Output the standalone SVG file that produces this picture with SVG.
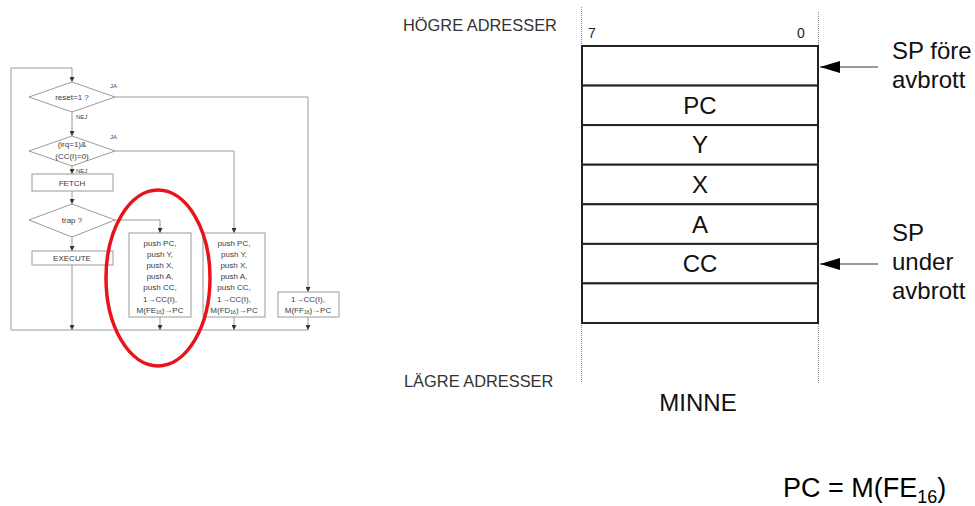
<svg xmlns="http://www.w3.org/2000/svg" width="975" height="506" viewBox="0 0 975 506">
<defs>
<marker id="ah" viewBox="0 0 6 6" refX="6" refY="3" markerWidth="5" markerHeight="5" orient="auto" markerUnits="userSpaceOnUse">
<path d="M0,0 L6,3 L0,6 z" fill="#333"/>
</marker>
<marker id="big" viewBox="0 0 20 12" refX="20" refY="6" markerWidth="20" markerHeight="13" orient="auto" markerUnits="userSpaceOnUse">
<path d="M0,0 L20,6 L0,12 z" fill="#000"/>
</marker>
</defs>
<style>
.fl{fill:#fff;stroke:#9a9a9a;stroke-width:1}
.cn{fill:none;stroke:#9a9a9a;stroke-width:1}
.ft{font-family:"Liberation Sans",Arial,sans-serif;font-size:8px;fill:#3a3a3a;text-anchor:middle}
.sm{font-family:"Liberation Sans",Arial,sans-serif;font-size:6px;fill:#444}
.mem{fill:#fff;stroke:#222;stroke-width:2}
.mt{font-family:"Liberation Sans",Arial,sans-serif;font-size:24px;fill:#111;text-anchor:middle}
.lb{font-family:"Liberation Sans",Arial,sans-serif;font-size:24px;fill:#111}
.ad{font-family:"Liberation Sans",Arial,sans-serif;font-size:16.4px;fill:#333}
.dot{stroke:#888;stroke-width:1;stroke-dasharray:1 1}
.sp{stroke:#777;stroke-width:1.5;fill:none}
</style>
<rect width="975" height="506" fill="#fff"/>

<g id="connectors">
<path class="cn" d="M11,330 V68 H72 V82" marker-end="url(#ah)"/>
<path class="cn" d="M72,112 V136" marker-end="url(#ah)"/>
<path class="cn" d="M72,166 V174" marker-end="url(#ah)"/>
<path class="cn" d="M72,191 V204" marker-end="url(#ah)"/>
<path class="cn" d="M72,237 V251" marker-end="url(#ah)"/>
<path class="cn" d="M72,265 V330" marker-end="url(#ah)"/>
<path class="cn" d="M115,220 H160 V233" marker-end="url(#ah)"/>
<path class="cn" d="M115,97 H308 V292" marker-end="url(#ah)"/>
<path class="cn" d="M115,151 H234 V233" marker-end="url(#ah)"/>
<path class="cn" d="M160,317 V330" marker-end="url(#ah)"/>
<path class="cn" d="M234,317 V330" marker-end="url(#ah)"/>
<path class="cn" d="M308,317 V330" marker-end="url(#ah)"/>
<path class="cn" d="M11,330 H308"/>
<text class="sm" x="110" y="88">JA</text>
<text class="sm" x="110" y="139">JA</text>
<text class="sm" x="76" y="119">NEJ</text>
<text class="sm" x="76" y="173">NEJ</text>
<path class="sp" d="M878,67 H820" marker-end="url(#big)"/>
<path class="sp" d="M878,264 H820" marker-end="url(#big)"/>
</g>

<g id="reset">
<polygon class="fl" points="72,82 115,97 72,112 29,97"/>
<text class="ft" x="72" y="100">reset=1 ?</text>
</g>
<g id="irq">
<polygon class="fl" points="72,136 115,151 72,166 29,151"/>
<text class="ft" x="72" y="147">(irq=1)&amp;</text>
<text class="ft" x="72" y="159">(CC(I)=0)</text>
</g>
<g id="fetch">
<rect class="fl" x="32" y="174" width="81" height="17"/>
<text class="ft" x="72" y="185.5">FETCH</text>
</g>
<g id="trap">
<polygon class="fl" points="72,204 115,220 72,237 29,220"/>
<text class="ft" x="72" y="223">trap ?</text>
</g>
<g id="execute">
<rect class="fl" x="32" y="251" width="81" height="14"/>
<text class="ft" x="72" y="261">EXECUTE</text>
</g>
<g id="trapbox">
<rect class="fl" x="129" y="233" width="62" height="84"/>
<text class="ft" x="160" y="245.5">push PC,</text>
<text class="ft" x="160" y="256.7">push Y,</text>
<text class="ft" x="160" y="267.9">push X,</text>
<text class="ft" x="160" y="279.1">push A,</text>
<text class="ft" x="160" y="290.3">push CC,</text>
<text class="ft" x="160" y="301.5">1→CC(I),</text>
<text class="ft" x="160" y="312.7">M(FE<tspan font-size="5" dy="1.5">16</tspan><tspan dy="-1.5">)→PC</tspan></text>
</g>
<g id="irqbox">
<rect class="fl" x="203" y="233" width="62" height="84"/>
<text class="ft" x="234" y="245.5">push PC,</text>
<text class="ft" x="234" y="256.7">push Y,</text>
<text class="ft" x="234" y="267.9">push X,</text>
<text class="ft" x="234" y="279.1">push A,</text>
<text class="ft" x="234" y="290.3">push CC,</text>
<text class="ft" x="234" y="301.5">1→CC(I),</text>
<text class="ft" x="234" y="312.7">M(FD<tspan font-size="5" dy="1.5">16</tspan><tspan dy="-1.5">)→PC</tspan></text>
</g>
<g id="resetbox">
<rect class="fl" x="278" y="292" width="61" height="25"/>
<text class="ft" x="308" y="301.5">1→CC(I),</text>
<text class="ft" x="308" y="312.7">M(FF<tspan font-size="5" dy="1.5">16</tspan><tspan dy="-1.5">)→PC</tspan></text>
</g>
<g id="highlight">
<ellipse cx="158" cy="278" rx="52" ry="88" fill="none" stroke="#e8141c" stroke-width="3.5"/>
</g>

<g id="memory">
<line class="dot" x1="581.5" y1="7" x2="581.5" y2="383"/>
<line class="dot" x1="818.5" y1="12" x2="818.5" y2="383"/>
<text class="ad" x="403" y="31">HÖGRE ADRESSER</text>
<text class="ad" x="404" y="387">LÄGRE ADRESSER</text>
<text x="588" y="38" font-family="Liberation Sans, Arial, sans-serif" font-size="14" fill="#222">7</text>
<text x="797" y="38" font-family="Liberation Sans, Arial, sans-serif" font-size="14" fill="#222">0</text>
<rect class="mem" x="582" y="46" width="236" height="39.6"/>
<rect class="mem" x="582" y="85.6" width="236" height="39.5"/>
<rect class="mem" x="582" y="125.1" width="236" height="39.6"/>
<rect class="mem" x="582" y="164.7" width="236" height="39.6"/>
<rect class="mem" x="582" y="204.3" width="236" height="39.6"/>
<rect class="mem" x="582" y="243.9" width="236" height="39.5"/>
<rect class="mem" x="582" y="283.4" width="236" height="39.6"/>
<text class="mt" x="700" y="114">PC</text>
<text class="mt" x="700" y="153">Y</text>
<text class="mt" x="700" y="193">X</text>
<text class="mt" x="700" y="233">A</text>
<text class="mt" x="700" y="272">CC</text>
<text class="mt" x="698" y="411">MINNE</text>
</g>
<g id="labels">
<text class="lb" x="892" y="59">SP före</text>
<text class="lb" x="892" y="88">avbrott</text>
<text class="lb" x="892" y="241">SP</text>
<text class="lb" x="892" y="270">under</text>
<text class="lb" x="892" y="299">avbrott</text>
<text x="783" y="497" font-family="Liberation Sans, Arial, sans-serif" font-size="27" fill="#000">PC = M(FE<tspan font-size="18" dy="6">16</tspan><tspan dy="-6">)</tspan></text>
</g>
</svg>
